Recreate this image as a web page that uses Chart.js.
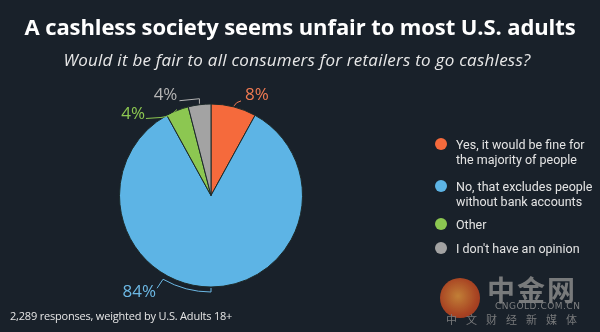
<!DOCTYPE html>
<html>
<head>
<meta charset="utf-8">
<script src="https://cdn.jsdelivr.net/npm/chart.js@4.4.1/dist/chart.umd.min.js"></script>
<style>
  html, body { margin:0; padding:0; background:#19212a; }
  #wrap { position:relative; width:600px; height:332px; background:#19212a; overflow:hidden; font-family:"Open Sans", sans-serif; }
  canvas { position:absolute; left:0; top:0; }
  #title { position:absolute; left:0; width:600px; top:11px; text-align:center; color:#fff; font-family:"Open Sans", sans-serif; font-weight:700; font-size:22px; letter-spacing:-0.1px; }
  #subtitle { position:absolute; left:0; width:594px; top:48px; text-align:center; color:#e8e8e8; font-family:"Open Sans", sans-serif; font-style:italic; font-size:17px; letter-spacing:0.25px; }
  #foot { position:absolute; left:10px; top:308px; color:#e6e6e6; font-family:"Open Sans", sans-serif; font-size:11px; letter-spacing:-0.2px; }
  #legend { position:absolute; left:434px; top:0; width:170px; }
  .li { position:absolute; left:0; width:170px; }
  .dot { position:absolute; left:1px; width:12px; height:12px; border-radius:50%; }
  .lt { position:absolute; left:22px; color:#e4e4e4; font-family:Roboto, sans-serif; font-size:12.5px; line-height:15px; white-space:nowrap; }
  #wm { position:absolute; left:440px; top:276px; width:160px; height:56px; opacity:0.85; }
  #wmlogo { position:absolute; left:0px; top:2px; width:40px; height:40px; border-radius:50%; background:radial-gradient(circle at 45% 45%, #e0903a 0%, #c24a22 60%, #a8331c 100%); }
  #wmcn { position:absolute; left:47px; top:-7px; color:#8a8a8a; font-family:"Noto Sans CJK SC", sans-serif; font-weight:700; font-size:28px; letter-spacing:2px; }
  #wmen { position:absolute; left:55px; top:25px; color:#909090; font-family:"DejaVu Sans", sans-serif; font-size:9px; letter-spacing:0.5px; white-space:nowrap; }
  #wmsub { position:absolute; left:6px; top:35px; color:#8a8a8a; font-family:"Noto Sans CJK SC", sans-serif; font-size:11px; letter-spacing:9px; white-space:nowrap; }
</style>
</head>
<body>
<div id="wrap">
  <canvas id="c" width="600" height="332"></canvas>
  <div id="title">A cashless society seems unfair to most U.S. adults</div>
  <div id="subtitle">Would it be fair to all consumers for retailers to go cashless?</div>
  <div id="legend"></div>
  <div id="foot">2,289 responses, weighted by U.S. Adults 18+</div>
  <div id="wm"><div id="wmlogo"></div><div id="wmcn">中金网</div><div id="wmen">CNGOLD.COM.CN</div><div id="wmsub">中文财经新媒体</div></div>
</div>
<script>
// ---- data ----
const categories = [
  ["Yes, it would be fine for", "the majority of people"],
  ["No, that excludes people", "without bank accounts"],
  ["Other"],
  ["I don't have an opinion"]
];
const shares = [8, 84, 4, 4];
const percentLabels = ["8%", "84%", "4%", "4%"];
const sliceColors = ["#f56a3c", "#5db4e5", "#8cc751", "#a3a3a3"];
const labelColors = ["#f07a52", "#6cb8e4", "#8cc751", "#b4b4b4"];

// ---- legend (HTML, built from data) ----
const legendTops = [138, 180, 218, 242];
const legend = document.getElementById('legend');
categories.forEach((lines, i) => {
  const li = document.createElement('div');
  li.className = 'li';
  li.style.top = legendTops[i] + 'px';
  const dot = document.createElement('div');
  dot.className = 'dot';
  dot.style.background = sliceColors[i];
  dot.style.top = '0px';
  const t = document.createElement('div');
  t.className = 'lt';
  t.style.top = '-1px';
  t.innerHTML = lines.join('<br>');
  li.appendChild(dot); li.appendChild(t);
  legend.appendChild(li);
});

// ---- leader lines and percent labels ----
const leaderPlugin = {
  id: 'leaders',
  afterDatasetsDraw(chart) {
    const ctx = chart.ctx;
    const meta = chart.getDatasetMeta(0);
    ctx.save();
    ctx.lineWidth = 1;
    ctx.font = '500 17px "Open Sans", sans-serif';
    ctx.textBaseline = 'middle';
    meta.data.forEach((arc, i) => {
      const p = arc.getProps(['x','y','startAngle','endAngle','outerRadius'], true);
      const mid = (p.startAngle + p.endAngle) / 2;
      const R = p.outerRadius;
      const ax = p.x + Math.cos(mid) * (R + 1);
      const ay = p.y + Math.sin(mid) * (R + 1);
      ctx.strokeStyle = labelColors[i];
      ctx.fillStyle = labelColors[i];
      ctx.beginPath();
      let tx, ty, align;
      if (i === 0) {
        ctx.moveTo(ax, ay);
        ctx.quadraticCurveTo(ax + 2, ay - 4, ax + 7, ay - 5);
        tx = ax + 11; ty = ay - 11; align = 'left';
      } else if (i === 3) {
        ctx.moveTo(ax, ay);
        ctx.lineTo(ax, ay - 5);
        ctx.lineTo(ax - 20, ay - 3);
        tx = ax - 22; ty = ay - 9; align = 'right';
      } else if (i === 2) {
        ctx.moveTo(ax, ay);
        ctx.quadraticCurveTo(ax - 6, ay + 7, ax - 16, ay + 8);
        ctx.lineTo(ax - 31, ay + 9);
        tx = ax - 32; ty = ay + 5; align = 'right';
      } else {
        // bottom slice: tick down, arc along the rim, then diagonal to label
        const r2 = R + 5;
        ctx.moveTo(ax, ay);
        ctx.lineTo(p.x + Math.cos(mid) * r2, p.y + Math.sin(mid) * r2);
        const a2 = mid + 0.52;
        ctx.arc(p.x, p.y, r2, mid, a2, false);
        const ex = p.x + Math.cos(a2) * r2, ey = p.y + Math.sin(a2) * r2;
        ctx.lineTo(ex - 6, ey + 9);
        tx = ex - 7; ty = ey + 13; align = 'right';
      }
      ctx.stroke();
      ctx.textAlign = align;
      ctx.fillText(percentLabels[i], tx, ty);
    });
    ctx.restore();
  }
};

new Chart(document.getElementById('c'), {
  type: 'pie',
  data: {
    labels: categories.map(l => l.join(' ')),
    datasets: [{
      data: shares,
      backgroundColor: sliceColors,
      borderColor: '#1d2a2a',
      borderWidth: 1
    }]
  },
  options: {
    responsive: false,
    animation: false,
    devicePixelRatio: 1,
    layout: { padding: { left: 119, right: 297, top: 103, bottom: 44 } },
    plugins: {
      legend: { display: false },
      tooltip: { enabled: false },
      title: { display: false }
    }
  },
  plugins: [leaderPlugin]
});
</script>
</body>
</html>
